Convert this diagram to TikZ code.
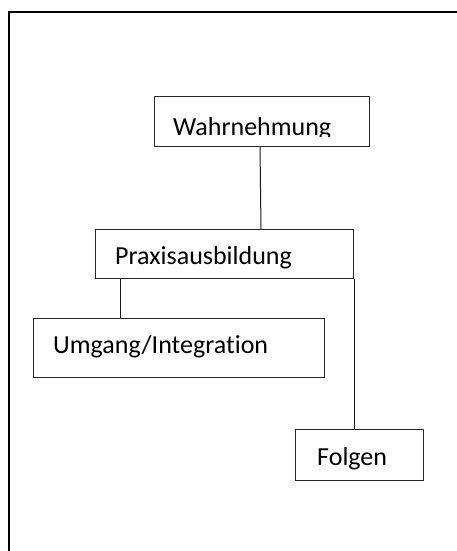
\documentclass[tikz,border=0pt]{standalone}
\usepackage{fontspec}
\setmainfont{Carlito}[RawFeature={-liga;-clig}]
\begin{document}
\begin{tikzpicture}[x=1pt,y=-1pt,
  box/.style={draw=black!85, line width=1pt, inner sep=0pt, anchor=north west, fill=white},
  lbl/.style={anchor=base west, inner sep=0pt, font=\fontsize{26}{31}\selectfont, text=black},
  conn/.style={draw=black!90, line width=1pt}]
\useasboundingbox (0,0) rectangle (457,551);
\fill[white] (0,0) rectangle (457,551);
% outer frame (only top and left edges visible)
\draw[line width=2.3pt] (9,551) -- (9,12) -- (457,12);
% boxes
\node[box, minimum width=215pt, minimum height=50pt] (w) at (154,96) {};
\node[box, minimum width=258pt, minimum height=49pt] (p) at (95,229) {};
\node[box, minimum width=291pt, minimum height=59pt] (u) at (33,318) {};
\node[box, minimum width=128pt, minimum height=51pt] (f) at (295,429) {};
% labels
\begin{scope}
  \clip (154,96) rectangle (369,136);
  \node[lbl] (wt) at (173,135) {Wahrnehmung};
\end{scope}
\node[lbl] (pt) at (115,264) {Praxisausbildung};
\node[lbl] (ut) at (53,353) {Umgang/Integration};
\node[lbl] (ft) at (317,465) {Folgen};
% connectors
\draw[conn] ([xshift=-2pt]w.south) -- ([xshift=-1pt]w.south |- p.north);
\draw[conn] ([xshift=25pt]p.south west) -- ([xshift=25pt]p.south west |- u.north);
\draw[conn] (p.south east) -- (p.south east |- f.north);
\end{tikzpicture}
\end{document}
